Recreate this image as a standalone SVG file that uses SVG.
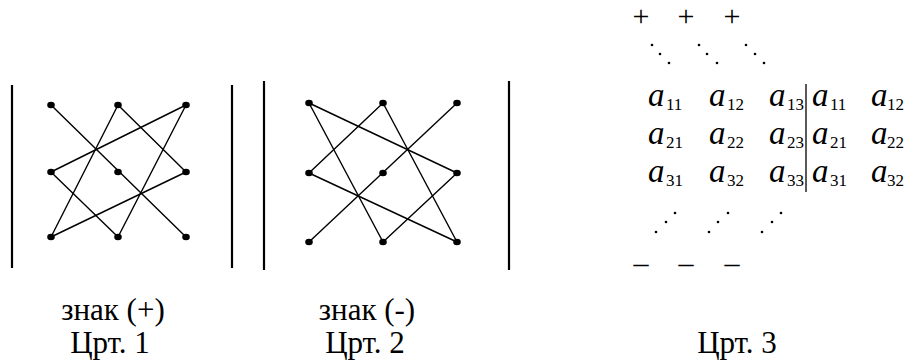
<svg xmlns="http://www.w3.org/2000/svg" width="904" height="361" viewBox="0 0 904 361" font-family="'Liberation Serif', 'Times New Roman', 'DejaVu Serif', serif">
<style>
.bar{stroke:#000;stroke-width:2.2;fill:none}
.ln{stroke:#000;stroke-width:1.4;fill:none;stroke-linecap:round}
.dot{fill:#000}
text{font-family:'Liberation Serif','Times New Roman','DejaVu Serif',serif;fill:#000}
.lab{font-size:31px}
.a{font-size:33px;font-style:italic}
.s{font-size:17px}
.sg{font-size:30px;text-anchor:middle}
.md{text-anchor:middle}
</style>
<defs>
<ellipse id="d" rx="3.8" ry="3.3" class="dot"/>
<circle id="p" r="1.3" class="dot"/>
</defs>

<!-- Figure 1 -->
<g id="fig1-bars">
<line class="bar" x1="12" y1="85" x2="12" y2="268"/>
<line class="bar" x1="232" y1="85" x2="232" y2="268"/>
</g>
<g id="fig1-connectors">
<line class="ln" x1="51" y1="105" x2="186" y2="237"/>
<line class="ln" x1="118" y1="105" x2="186" y2="172"/>
<line class="ln" x1="186" y1="172" x2="51" y2="237"/>
<line class="ln" x1="51" y1="237" x2="118" y2="105"/>
<line class="ln" x1="186" y1="105" x2="51" y2="172"/>
<line class="ln" x1="51" y1="172" x2="118" y2="237"/>
<line class="ln" x1="118" y1="237" x2="186" y2="105"/>
</g>
<g id="f1n11"><use href="#d" x="51" y="105"/></g>
<g id="f1n12"><use href="#d" x="118" y="105"/></g>
<g id="f1n13"><use href="#d" x="186" y="105"/></g>
<g id="f1n21"><use href="#d" x="51" y="172"/></g>
<g id="f1n22"><use href="#d" x="118" y="172"/></g>
<g id="f1n23"><use href="#d" x="186" y="172"/></g>
<g id="f1n31"><use href="#d" x="51" y="237"/></g>
<g id="f1n32"><use href="#d" x="118" y="237"/></g>
<g id="f1n33"><use href="#d" x="186" y="237"/></g>

<!-- Figure 2 -->
<g id="fig2-bars">
<line class="bar" x1="264" y1="81" x2="264" y2="270"/>
<line class="bar" x1="509" y1="81" x2="509" y2="270"/>
</g>
<g id="fig2-connectors">
<line class="ln" x1="457" y1="103" x2="309" y2="242"/>
<line class="ln" x1="309" y1="103" x2="457" y2="173"/>
<line class="ln" x1="457" y1="173" x2="383" y2="242"/>
<line class="ln" x1="383" y1="242" x2="309" y2="103"/>
<line class="ln" x1="383" y1="103" x2="309" y2="173"/>
<line class="ln" x1="309" y1="173" x2="457" y2="242"/>
<line class="ln" x1="457" y1="242" x2="383" y2="103"/>
</g>
<g id="f2n11"><use href="#d" x="309" y="103"/></g>
<g id="f2n12"><use href="#d" x="383" y="103"/></g>
<g id="f2n13"><use href="#d" x="457" y="103"/></g>
<g id="f2n21"><use href="#d" x="309" y="173"/></g>
<g id="f2n22"><use href="#d" x="383" y="173"/></g>
<g id="f2n23"><use href="#d" x="457" y="173"/></g>
<g id="f2n31"><use href="#d" x="309" y="242"/></g>
<g id="f2n32"><use href="#d" x="383" y="242"/></g>
<g id="f2n33"><use href="#d" x="457" y="242"/></g>

<!-- Labels -->
<g id="labels">
<text class="lab md" x="113" y="320">знак (+)</text>
<text class="lab md" x="110" y="353">Црт. 1</text>
<text class="lab md" x="367" y="320">знак (-)</text>
<text class="lab md" x="365" y="353">Црт. 2</text>
<text class="lab md" x="737" y="353">Црт. 3</text>
</g>

<!-- Figure 3: Sarrus scheme -->
<g id="fig3">
<text class="sg" x="641" y="26">+</text>
<text class="sg" x="686" y="26">+</text>
<text class="sg" x="732" y="26">+</text>
<g id="ddots">
<use href="#p" x="652" y="45"/><use href="#p" x="660" y="54"/><use href="#p" x="669" y="63"/>
<use href="#p" x="699" y="45"/><use href="#p" x="707" y="54"/><use href="#p" x="717" y="63"/>
<use href="#p" x="746" y="45"/><use href="#p" x="755" y="54"/><use href="#p" x="764" y="63"/>
</g>
<g id="row1">
<text class="a" x="648" y="106">a</text><text class="s" x="666" y="110">11</text>
<text class="a" x="709" y="106">a</text><text class="s" x="727" y="110">12</text>
<text class="a" x="769" y="106">a</text><text class="s" x="787" y="110">13</text>
<text class="a" x="812" y="106">a</text><text class="s" x="830" y="110">11</text>
<text class="a" x="871" y="106">a</text><text class="s" x="887" y="110">12</text>
</g>
<g id="row2">
<text class="a" x="648" y="144">a</text><text class="s" x="666" y="148">21</text>
<text class="a" x="709" y="144">a</text><text class="s" x="727" y="148">22</text>
<text class="a" x="769" y="144">a</text><text class="s" x="787" y="148">23</text>
<text class="a" x="812" y="144">a</text><text class="s" x="830" y="148">21</text>
<text class="a" x="871" y="144">a</text><text class="s" x="887" y="148">22</text>
</g>
<g id="row3">
<text class="a" x="648" y="182">a</text><text class="s" x="666" y="186">31</text>
<text class="a" x="709" y="182">a</text><text class="s" x="727" y="186">32</text>
<text class="a" x="769" y="182">a</text><text class="s" x="787" y="186">33</text>
<text class="a" x="812" y="182">a</text><text class="s" x="830" y="186">31</text>
<text class="a" x="871" y="182">a</text><text class="s" x="887" y="186">32</text>
</g>
<line x1="806" y1="84" x2="806" y2="192" stroke="#000" stroke-width="1.3"/>
<g id="adots">
<use href="#p" x="656" y="232"/><use href="#p" x="666" y="222"/><use href="#p" x="675" y="213"/>
<use href="#p" x="709" y="232"/><use href="#p" x="718" y="222"/><use href="#p" x="728" y="213"/>
<use href="#p" x="762" y="232"/><use href="#p" x="772" y="222"/><use href="#p" x="781" y="213"/>
</g>
<text class="sg" x="641" y="273">–</text>
<text class="sg" x="686" y="273">–</text>
<text class="sg" x="732" y="273">–</text>
</g>
</svg>
